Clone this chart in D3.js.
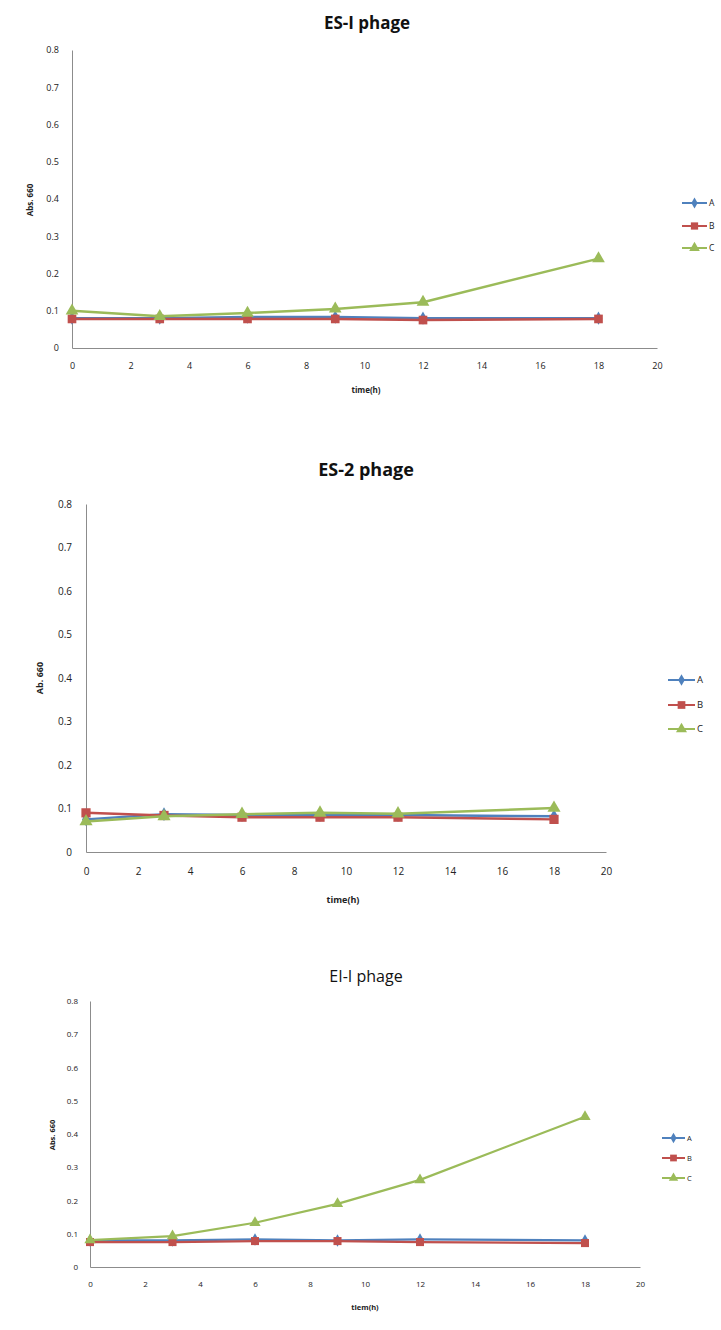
<!DOCTYPE html>
<html><head><meta charset="utf-8">
<script src="https://cdn.jsdelivr.net/npm/d3@7"></script>
<style>body{margin:0;background:#fff}svg{display:block}</style>
</head><body>
<svg id="chart" width="721" height="1330"></svg>
<script>
const times = [0, 3, 6, 9, 12, 18];
const seriesNames = ["A", "B", "C"];
const xTicks = [0, 2, 4, 6, 8, 10, 12, 14, 16, 18, 20];
const yTicks = [0, 0.1, 0.2, 0.3, 0.4, 0.5, 0.6, 0.7, 0.8];

const es1A = [0.080, 0.080, 0.083, 0.083, 0.080, 0.080];
const es1B = [0.078, 0.078, 0.078, 0.078, 0.075, 0.078];
const es1C = [0.100, 0.085, 0.094, 0.105, 0.123, 0.240];

const es2A = [0.075, 0.087, 0.085, 0.085, 0.085, 0.082];
const es2B = [0.090, 0.084, 0.080, 0.080, 0.080, 0.075];
const es2C = [0.070, 0.082, 0.087, 0.090, 0.088, 0.101];

const ei1A = [0.080, 0.080, 0.083, 0.080, 0.083, 0.080];
const ei1B = [0.075, 0.075, 0.078, 0.078, 0.075, 0.072];
const ei1C = [0.081, 0.093, 0.133, 0.190, 0.262, 0.452];

const colors = ["#4F81BD", "#C0504D", "#9BBB59"];
const symbols = [d3.symbolDiamond, d3.symbolSquare, d3.symbolTriangle];
const font = "'Open Sans', 'Liberation Sans', Arial, sans-serif";

const charts = [
  {title: "ES-I phage", titleWeight: "bold", titleSize: 17, titleX: 367, titleY: 29,
   xLabel: "time(h)", yLabel: "Abs. 660",
   x0: 72, x1: 657, y0: 348, y1: 50, tickSize: 9, labelSize: 8,
   xLabelX: 366, xLabelY: 393, yLabelX: 33, yLabelY: 200,
   legX: 682, legY: [203, 226, 248], legLen: 25, legFont: 8.5,
   data: [es1A, es1B, es1C], ms: [50, 75, 70], lw: 2.5},
  {title: "ES-2 phage", titleWeight: "bold", titleSize: 18, titleX: 366, titleY: 476,
   xLabel: "time(h)", yLabel: "Ab. 660",
   x0: 86, x1: 606, y0: 852, y1: 504, tickSize: 10, labelSize: 9,
   xLabelX: 343, xLabelY: 903, yLabelX: 43, yLabelY: 678,
   legX: 668, legY: [680, 705, 729], legLen: 27, legFont: 9.5,
   data: [es2A, es2B, es2C], ms: [55, 85, 75], lw: 2.5},
  {title: "EI-I phage", titleWeight: "normal", titleSize: 16, titleX: 366, titleY: 982,
   xLabel: "tiem(h)", yLabel: "Abs. 660",
   x0: 90, x1: 640, y0: 1267, y1: 1001, tickSize: 8, labelSize: 7.5,
   xLabelX: 365, xLabelY: 1310, yLabelX: 55, yLabelY: 1135,
   legX: 662, legY: [1138, 1158, 1178], legLen: 23, legFont: 7.5,
   data: [ei1A, ei1B, ei1C], ms: [45, 65, 55], lw: 2.2}
];

const svg = d3.select("#chart");

charts.forEach(c => {
  const g = svg.append("g");
  const x = d3.scaleLinear().domain([0, 20]).range([c.x0, c.x1]);
  const y = d3.scaleLinear().domain([0, 0.8]).range([c.y0, c.y1]);

  g.append("text").attr("x", c.titleX).attr("y", c.titleY)
    .attr("text-anchor", "middle").attr("font-family", font)
    .attr("font-weight", c.titleWeight).attr("font-size", c.titleSize)
    .attr("fill", "#111").text(c.title);

  const xAxis = g.append("g").attr("transform", `translate(0,${c.y0})`)
    .call(d3.axisBottom(x).tickValues(xTicks).tickSize(0).tickPadding(c.tickSize + 6).tickFormat(d3.format("d")));
  xAxis.select(".domain").attr("stroke", "#8c8c8c").attr("stroke-width", 1);
  xAxis.selectAll("text").attr("font-family", font).attr("font-size", c.tickSize).attr("fill", "#222");

  const yAxis = g.append("g").attr("transform", `translate(${c.x0},0)`)
    .call(d3.axisLeft(y).tickValues(yTicks).tickSize(0).tickPadding(c.tickSize + 4)
      .tickFormat(d => d === 0 ? "0" : d3.format(".1f")(d)));
  yAxis.select(".domain").attr("stroke", "#8c8c8c").attr("stroke-width", 1);
  yAxis.selectAll("text").attr("font-family", font).attr("font-size", c.tickSize).attr("fill", "#222");

  g.append("text").attr("x", c.xLabelX).attr("y", c.xLabelY)
    .attr("text-anchor", "middle").attr("font-family", font).attr("font-weight", "bold")
    .attr("font-size", c.labelSize).attr("fill", "#222").text(c.xLabel);
  g.append("text").attr("transform", `translate(${c.yLabelX},${c.yLabelY}) rotate(-90)`)
    .attr("text-anchor", "middle").attr("font-family", font).attr("font-weight", "bold")
    .attr("font-size", c.labelSize).attr("fill", "#222").text(c.yLabel);

  const line = d3.line().x((d, i) => x(times[i])).y(d => y(d));
  c.data.forEach((vals, si) => {
    g.append("path").datum(vals).attr("d", line).attr("fill", "none")
      .attr("stroke", colors[si]).attr("stroke-width", c.lw).attr("stroke-linejoin", "round");
    g.selectAll(null).data(vals).enter().append("path")
      .attr("transform", (d, i) => `translate(${x(times[i])},${y(d)})`)
      .attr("d", d3.symbol().type(symbols[si]).size(c.ms[si]))
      .attr("fill", colors[si]);
  });

  seriesNames.forEach((name, si) => {
    const ly = c.legY[si];
    g.append("line").attr("x1", c.legX).attr("x2", c.legX + c.legLen)
      .attr("y1", ly).attr("y2", ly).attr("stroke", colors[si]).attr("stroke-width", 2);
    g.append("path").attr("transform", `translate(${c.legX + c.legLen / 2},${ly})`)
      .attr("d", d3.symbol().type(symbols[si]).size(c.ms[si] * 0.7)).attr("fill", colors[si]);
    g.append("text").attr("x", c.legX + c.legLen + 2).attr("y", ly).attr("dy", "0.35em")
      .attr("font-family", font).attr("font-size", c.legFont).attr("fill", "#222").text(name);
  });
});
</script>
</body></html>
